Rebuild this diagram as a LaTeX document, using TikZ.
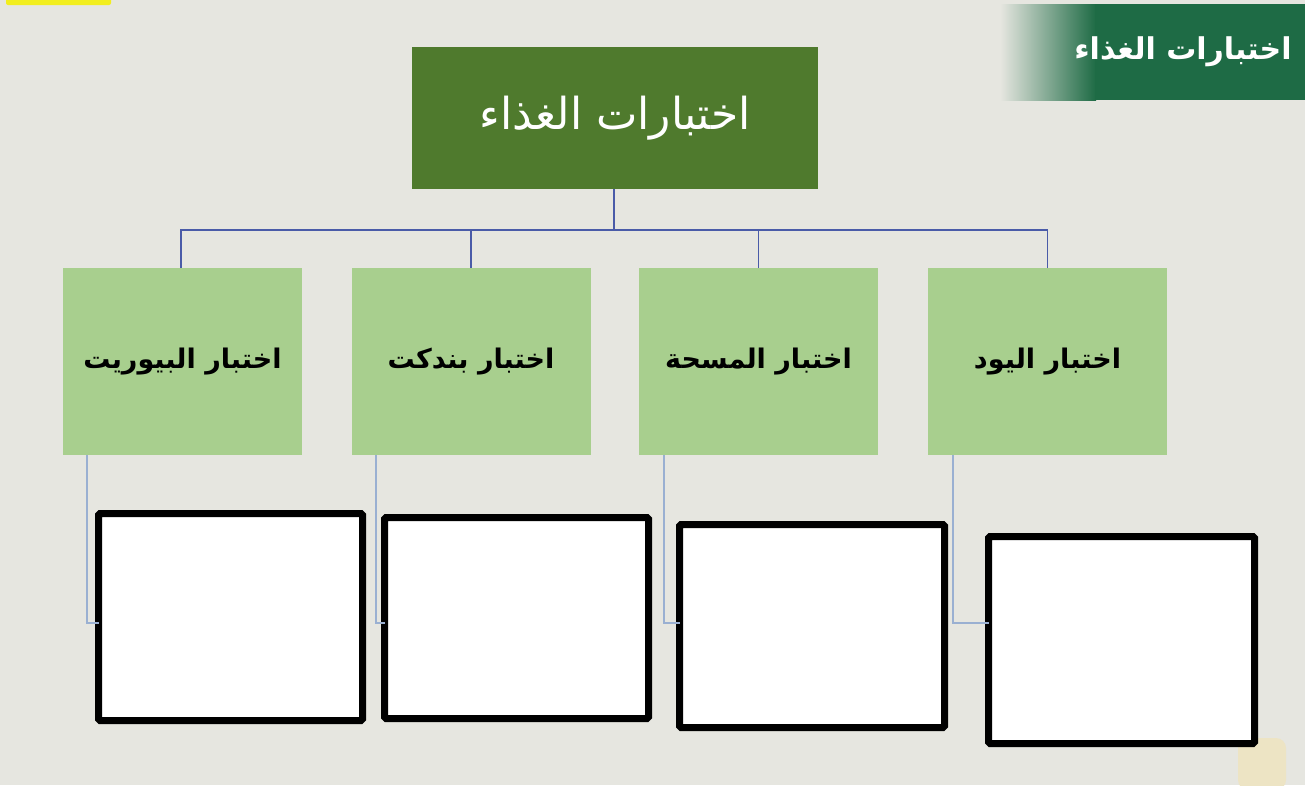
\documentclass[tikz,border=0pt]{standalone}
\usepackage{fontspec}
\TeXXeTstate=1
\newfontfamily\arabicfont[Script=Arabic]{DejaVu Sans}
\usetikzlibrary{calc}
\definecolor{bgc}{HTML}{E6E6E0}
\definecolor{topgreen}{HTML}{4F7A2D}
\definecolor{lightgreen}{HTML}{A8CF8E}
\definecolor{bannergreen}{HTML}{1E6B45}
\definecolor{busblue}{HTML}{4A5BA8}
\definecolor{dropblue}{HTML}{9AB0D2}
\definecolor{marker}{HTML}{F2EE1E}
\definecolor{blob}{HTML}{EDE4C4}
\tikzset{
  topbox/.style={rectangle,fill=topgreen,draw=none,inner sep=0,outer sep=0,
    minimum width=406pt,minimum height=142pt,text=white,
    font=\arabicfont\fontsize{44}{52}\selectfont},
  testbox/.style={rectangle,fill=lightgreen,draw=none,inner sep=0,outer sep=0,
    minimum width=239pt,minimum height=187pt,text=black,
    font=\arabicfont\bfseries\fontsize{27}{32}\selectfont},
  answerbox/.style={rectangle,fill=white,draw=black,line width=7pt,
    inner sep=0,outer sep=0,rounded corners=1.5pt},
  busline/.style={draw=busblue,line width=1.5pt},
  dropline/.style={draw=dropblue,line width=1.2pt},
  bannertext/.style={text=white,inner sep=0,
    font=\arabicfont\bfseries\fontsize{30}{36}\selectfont}
}
\begin{document}
\begin{tikzpicture}[x=1pt,y=-1pt]
\fill[bgc] (0,0) rectangle (1305,785);
\useasboundingbox (0,0) rectangle (1305,785);
% marker stroke top-left and faint blob bottom-right
\fill[marker,rounded corners=2pt] (6,-3) rectangle (111,5);
\fill[blob,rounded corners=10pt] (1238,738) rectangle (1286,790);
% banner
\shade[left color=bgc,right color=bannergreen] (1000,4) rectangle (1096,100);
\fill[bannergreen] (1095,4) rectangle (1305,100);
\node[bannertext] (banner) at (1183,52) {\beginR اختبارات الغذاء\endR};
% top node
\node[topbox] (top) at (615,118) {\beginR اختبارات الغذاء\endR};
% level 2
\node[testbox] (b1) at (182.5,361.5) {\beginR اختبار البيوريت\endR};
\node[testbox] (b2) at (471,361.5) {\beginR اختبار بندكت\endR};
\node[testbox] (b3) at (758.5,361.5) {\beginR اختبار المسحة\endR};
\node[testbox] (b4) at (1047.5,361.5) {\beginR اختبار اليود\endR};
% answer boxes
\node[answerbox,minimum width=264pt,minimum height=207pt] (w1) at (230.5,617) {};
\node[answerbox,minimum width=264pt,minimum height=201pt] (w2) at (516.5,618) {};
\node[answerbox,minimum width=265pt,minimum height=203pt] (w3) at (812,626) {};
\node[answerbox,minimum width=266pt,minimum height=207pt] (w4) at (1121.5,640) {};
% connectors top
\coordinate (bus) at (614,230);
\draw[busline] (top.south -| bus) -- (bus);
\draw[busline] (b1.north -| 181,0) |- (bus);
\draw[busline] (b2.north) |- (bus);
\draw[busline] (b3.north) |- (bus);
\draw[busline] (b4.north) |- (bus);
% connectors bottom
\coordinate (j1) at (87,623);
\coordinate (j2) at (376,623);
\coordinate (j3) at (664,623);
\coordinate (j4) at (953,623);
\draw[dropline] (b1.south -| j1) -- (j1) -- (j1 -| w1.west);
\draw[dropline] (b2.south -| j2) -- (j2) -- (j2 -| w2.west);
\draw[dropline] (b3.south -| j3) -- (j3) -- (j3 -| w3.west);
\draw[dropline] (b4.south -| j4) -- (j4) -- (j4 -| w4.west);
\end{tikzpicture}
\end{document}
